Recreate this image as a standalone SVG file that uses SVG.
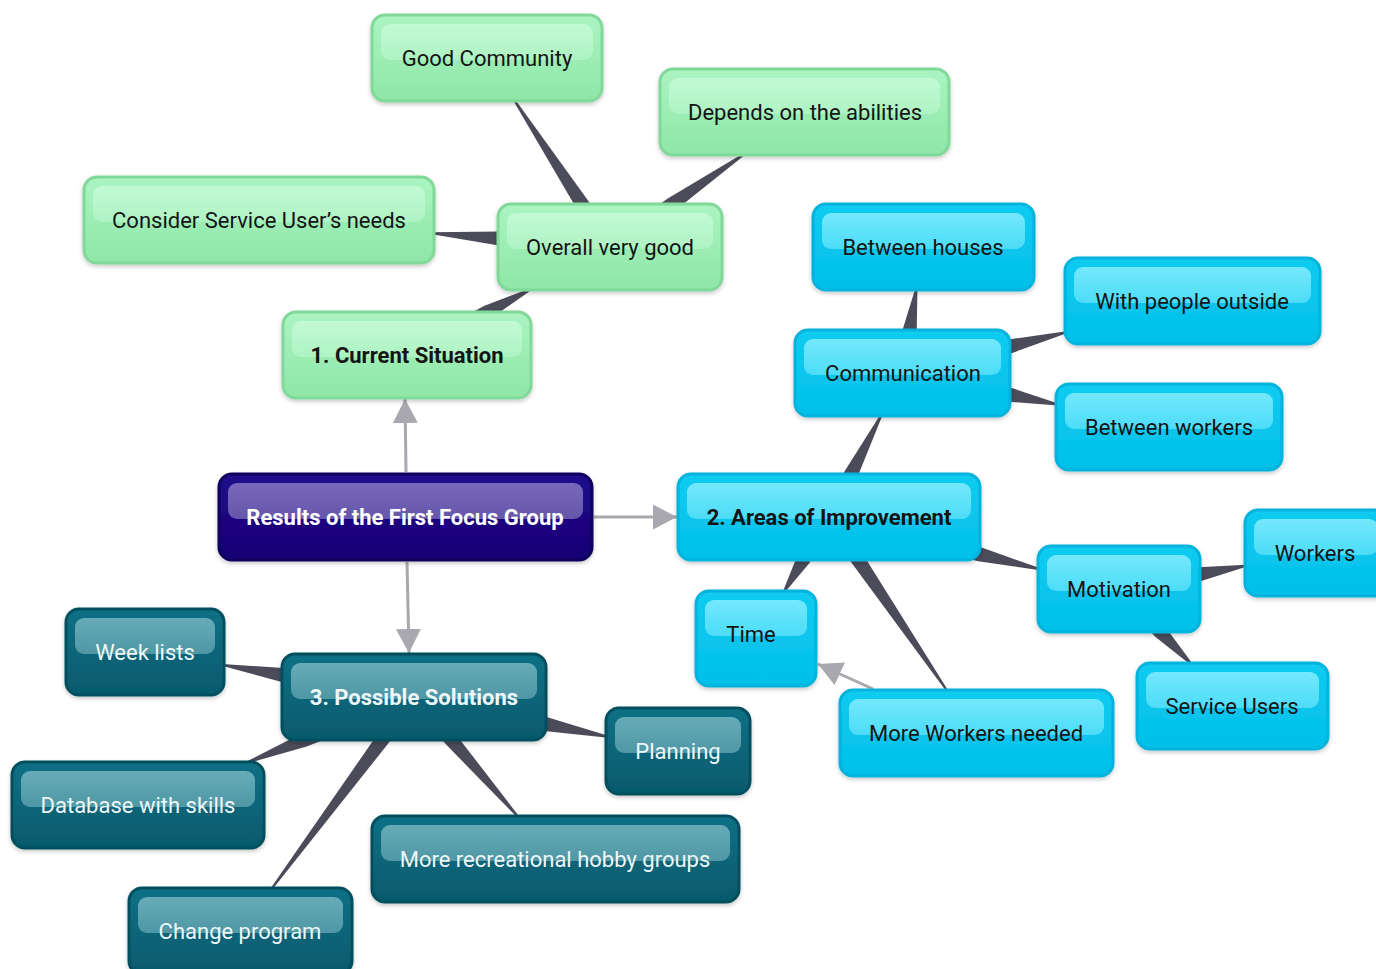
<svg xmlns="http://www.w3.org/2000/svg" width="1376" height="969" viewBox="0 0 1376 969">
<defs>
<linearGradient id="gG" x1="0" y1="0" x2="0" y2="1"><stop offset="0" stop-color="#abf4c2"/><stop offset="1" stop-color="#8ee6a7"/></linearGradient>
<linearGradient id="gGh" x1="0" y1="0" x2="0" y2="1"><stop offset="0" stop-color="#c2fad3"/><stop offset="1" stop-color="#aef3c3"/></linearGradient>
<linearGradient id="gC" x1="0" y1="0" x2="0" y2="1"><stop offset="0" stop-color="#12cbf0"/><stop offset="1" stop-color="#00c0e9"/></linearGradient>
<linearGradient id="gCh" x1="0" y1="0" x2="0" y2="1"><stop offset="0" stop-color="#74e8fd"/><stop offset="1" stop-color="#4cdcf8"/></linearGradient>
<linearGradient id="gT" x1="0" y1="0" x2="0" y2="1"><stop offset="0" stop-color="#0e7085"/><stop offset="1" stop-color="#065a6c"/></linearGradient>
<linearGradient id="gTh" x1="0" y1="0" x2="0" y2="1"><stop offset="0" stop-color="#67abb8"/><stop offset="1" stop-color="#4f97a5"/></linearGradient>
<linearGradient id="gP" x1="0" y1="0" x2="0" y2="1"><stop offset="0" stop-color="#200c8c"/><stop offset="1" stop-color="#170074"/></linearGradient>
<linearGradient id="gPh" x1="0" y1="0" x2="0" y2="1"><stop offset="0" stop-color="#7868bb"/><stop offset="1" stop-color="#6656ab"/></linearGradient>
<filter id="sh" x="-10%" y="-10%" width="120%" height="130%"><feDropShadow dx="0" dy="2" stdDeviation="2" flood-color="#000" flood-opacity="0.22"/></filter>
<marker id="ah" markerUnits="userSpaceOnUse" markerWidth="26" markerHeight="26" refX="24" refY="12.5" orient="auto"><path d="M0,0 L24,12.5 L0,25 z" fill="#a8a8ae"/></marker>
<style>
.o{stroke-width:3;filter:url(#sh)}
.green .o{fill:url(#gG);stroke:#80d899}
.green .h{fill:url(#gGh)}
.cyan .o{fill:url(#gC);stroke:#00b3dc}
.cyan .h{fill:url(#gCh)}
.teal .o{fill:url(#gT);stroke:#06505f}
.teal .h{fill:url(#gTh)}
.main .o{fill:url(#gP);stroke:#11005f}
.main .h{fill:url(#gPh)}
text{font-family:Roboto,"Liberation Sans",sans-serif;font-size:22px;text-anchor:middle}
.green text,.cyan text{fill:#141414}
.teal text{fill:#eef7f9}
.main text{fill:#ffffff}
.b{font-weight:bold}
.w{fill:#4b4b5a}
.arr{stroke:#a8a8ae;stroke-width:3;fill:none;marker-end:url(#ah)}
</style>
</defs>
<rect width="1376" height="969" fill="#ffffff"/>
<g id="connectors">
<polygon class="w" points="0,-7 91.5,-7 140.4,-1 140.4,1 91.5,7 0,7" transform="translate(407,355) rotate(-28)"/>
<polygon class="w" points="0,-7 51.3,-7 176.2,-1 176.2,1 51.3,7 0,7" transform="translate(610,247) rotate(-123.1)"/>
<polygon class="w" points="0,-7 75.6,-7 163.6,-1 163.6,1 75.6,7 0,7" transform="translate(610,247) rotate(-34.7)"/>
<polygon class="w" points="0,-7 112.3,-7 178.5,-1 178.5,1 112.3,7 0,7" transform="translate(610,247) rotate(-175.6)"/>
<polygon class="w" points="0,-7 48.4,-7 115.5,-1 115.5,1 48.4,7 0,7" transform="translate(829,517) rotate(-62.8)"/>
<polygon class="w" points="0,-7 43.6,-7 86,-1 86,1 43.6,7 0,7" transform="translate(903,373) rotate(-81)"/>
<polygon class="w" points="0,-7 110.8,-7 168.4,-1 168.4,1 110.8,7 0,7" transform="translate(903,373) rotate(-14)"/>
<polygon class="w" points="0,-7 109.7,-7 158.1,-1 158.1,1 109.7,7 0,7" transform="translate(903,373) rotate(11.5)"/>
<polygon class="w" points="0,-7 155.5,-7 217.4,-1 217.4,1 155.5,7 0,7" transform="translate(829,517) rotate(13.9)"/>
<polygon class="w" points="0,-7 82.4,-7 129.1,-1 129.1,1 82.4,7 0,7" transform="translate(1119,589) rotate(-10.4)"/>
<polygon class="w" points="0,-7 59.8,-7 104.9,-1 104.9,1 59.8,7 0,7" transform="translate(1119,589) rotate(46)"/>
<polygon class="w" points="0,-7 50.2,-7 87.8,-1 87.8,1 50.2,7 0,7" transform="translate(829,517) rotate(121.1)"/>
<polygon class="w" points="0,-7 52,-7 211.3,-1 211.3,1 52,7 0,7" transform="translate(829,517) rotate(55.8)"/>
<polygon class="w" points="0,-7 133.9,-7 194.6,-1 194.6,1 133.9,7 0,7" transform="translate(414,697) rotate(-170.5)"/>
<polygon class="w" points="0,-7 134.7,-7 198,-1 198,1 134.7,7 0,7" transform="translate(414,697) rotate(11.6)"/>
<polygon class="w" points="0,-7 118,-7 180.4,-1 180.4,1 118,7 0,7" transform="translate(414,697) rotate(158.6)"/>
<polygon class="w" points="0,-7 57,-7 159.8,-1 159.8,1 57,7 0,7" transform="translate(414,697) rotate(49)"/>
<polygon class="w" points="0,-7 53.6,-7 240,-1 240,1 53.6,7 0,7" transform="translate(414,697) rotate(126.6)"/>
<line class="arr" x1="406" y1="472" x2="405" y2="399"/>
<line class="arr" x1="594" y1="517" x2="677" y2="517"/>
<line class="arr" x1="407" y1="562" x2="409" y2="653"/>
<line class="arr" x1="873" y1="689" x2="818" y2="664"/>
</g>
<g id="n-good-community" class="green"><rect class="o" x="372" y="15" width="230" height="86" rx="13"/><rect class="h" x="381" y="24" width="212" height="36" rx="9"/><text x="487" y="66">Good Community</text></g>
<g id="n-depends" class="green"><rect class="o" x="660" y="69" width="289" height="86" rx="13"/><rect class="h" x="669" y="78" width="271" height="36" rx="9"/><text x="805" y="120">Depends on the abilities</text></g>
<g id="n-consider" class="green"><rect class="o" x="84" y="177" width="350" height="86" rx="13"/><rect class="h" x="93" y="186" width="332" height="36" rx="9"/><text x="259" y="228">Consider Service User’s needs</text></g>
<g id="n-overall" class="green"><rect class="o" x="498" y="204" width="224" height="86" rx="13"/><rect class="h" x="507" y="213" width="206" height="36" rx="9"/><text x="610" y="255">Overall very good</text></g>
<g id="n-current" class="green"><rect class="o" x="283" y="312" width="248" height="86" rx="13"/><rect class="h" x="292" y="321" width="230" height="36" rx="9"/><text class="b" x="407" y="363">1. Current Situation</text></g>
<g id="n-results" class="main"><rect class="o" x="219" y="474" width="373" height="86" rx="13"/><rect class="h" x="228" y="483" width="355" height="36" rx="9"/><text class="b" x="405" y="525">Results of the First Focus Group</text></g>
<g id="n-between-houses" class="cyan"><rect class="o" x="813" y="204" width="221" height="86" rx="13"/><rect class="h" x="822" y="213" width="203" height="36" rx="9"/><text x="923" y="255">Between houses</text></g>
<g id="n-with-people" class="cyan"><rect class="o" x="1065" y="258" width="255" height="86" rx="13"/><rect class="h" x="1074" y="267" width="237" height="36" rx="9"/><text x="1192" y="309">With people outside</text></g>
<g id="n-communication" class="cyan"><rect class="o" x="795" y="330" width="215" height="86" rx="13"/><rect class="h" x="804" y="339" width="197" height="36" rx="9"/><text x="903" y="381">Communication</text></g>
<g id="n-between-workers" class="cyan"><rect class="o" x="1056" y="384" width="226" height="86" rx="13"/><rect class="h" x="1065" y="393" width="208" height="36" rx="9"/><text x="1169" y="435">Between workers</text></g>
<g id="n-areas" class="cyan"><rect class="o" x="678" y="474" width="302" height="86" rx="13"/><rect class="h" x="687" y="483" width="284" height="36" rx="9"/><text class="b" x="829" y="525">2. Areas of Improvement</text></g>
<g id="n-workers" class="cyan"><rect class="o" x="1245" y="510" width="142" height="86" rx="13"/><rect class="h" x="1254" y="519" width="124" height="36" rx="9"/><text x="1315" y="561">Workers</text></g>
<g id="n-motivation" class="cyan"><rect class="o" x="1038" y="546" width="162" height="86" rx="13"/><rect class="h" x="1047" y="555" width="144" height="36" rx="9"/><text x="1119" y="597">Motivation</text></g>
<g id="n-time" class="cyan"><rect class="o" x="696" y="591" width="120" height="95" rx="13"/><rect class="h" x="705" y="600" width="102" height="36" rx="9"/><text x="751" y="642">Time</text></g>
<g id="n-more-workers" class="cyan"><rect class="o" x="840" y="690" width="273" height="86" rx="13"/><rect class="h" x="849" y="699" width="255" height="36" rx="9"/><text x="976" y="741">More Workers needed</text></g>
<g id="n-service-users" class="cyan"><rect class="o" x="1137" y="663" width="191" height="86" rx="13"/><rect class="h" x="1146" y="672" width="173" height="36" rx="9"/><text x="1232" y="714">Service Users</text></g>
<g id="n-week-lists" class="teal"><rect class="o" x="66" y="609" width="158" height="86" rx="13"/><rect class="h" x="75" y="618" width="140" height="36" rx="9"/><text x="145" y="660">Week lists</text></g>
<g id="n-possible" class="teal"><rect class="o" x="282" y="654" width="264" height="86" rx="13"/><rect class="h" x="291" y="663" width="246" height="36" rx="9"/><text class="b" x="414" y="705">3. Possible Solutions</text></g>
<g id="n-planning" class="teal"><rect class="o" x="606" y="708" width="144" height="86" rx="13"/><rect class="h" x="615" y="717" width="126" height="36" rx="9"/><text x="678" y="759">Planning</text></g>
<g id="n-database" class="teal"><rect class="o" x="12" y="762" width="252" height="86" rx="13"/><rect class="h" x="21" y="771" width="234" height="36" rx="9"/><text x="138" y="813">Database with skills</text></g>
<g id="n-recreational" class="teal"><rect class="o" x="372" y="816" width="367" height="86" rx="13"/><rect class="h" x="381" y="825" width="349" height="36" rx="9"/><text x="555" y="867">More recreational hobby groups</text></g>
<g id="n-change" class="teal"><rect class="o" x="129" y="888" width="223" height="86" rx="13"/><rect class="h" x="138" y="897" width="205" height="36" rx="9"/><text x="240" y="939">Change program</text></g>
</svg>
